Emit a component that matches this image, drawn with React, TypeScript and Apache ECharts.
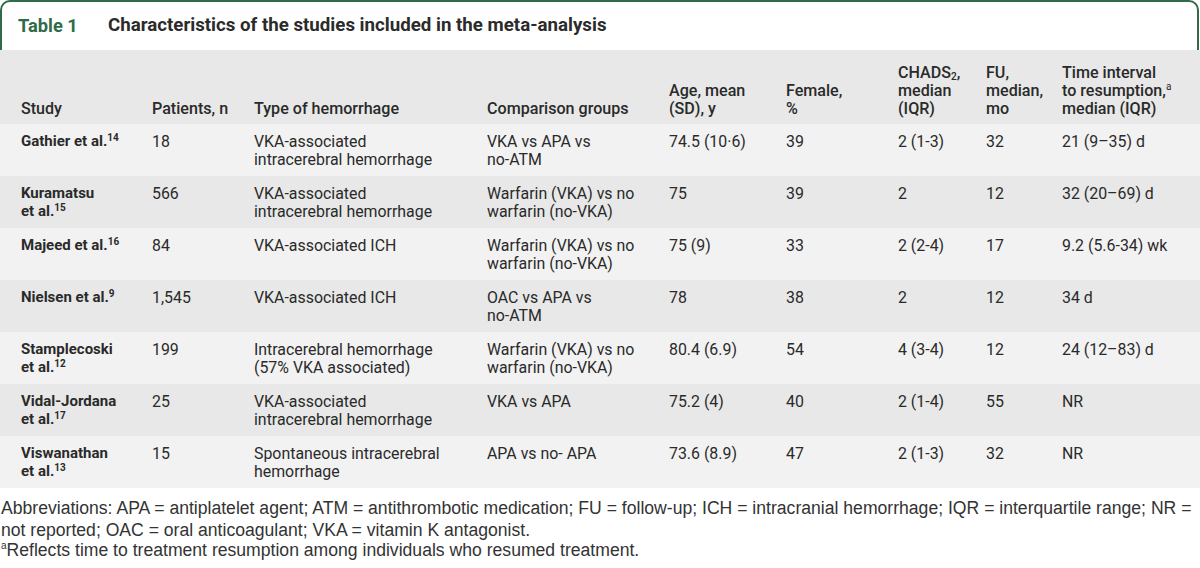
import React, { useEffect, useRef } from "react";
import * as echarts from "echarts";

const tableLabel = "Table 1";
const tableTitle = "Characteristics of the studies included in the meta-analysis";

const columnHeaders = [
  "Study",
  "Patients, n",
  "Type of hemorrhage",
  "Comparison groups",
  "Age, mean\n(SD), y",
  "Female,\n%",
  "CHADS{sub|2},\nmedian\n(IQR)",
  "FU,\nmedian,\nmo",
  "Time interval\nto resumption,{sup|a}\nmedian (IQR)",
];

const studyNames = [
  "Gathier et al.",
  "Kuramatsu\net al.",
  "Majeed et al.",
  "Nielsen et al.",
  "Stamplecoski\net al.",
  "Vidal-Jordana\net al.",
  "Viswanathan\net al.",
];
const studyRefs = ["14", "15", "16", "9", "12", "17", "13"];
const patients = ["18", "566", "84", "1,545", "199", "25", "15"];
const hemorrhageTypes = [
  "VKA-associated\nintracerebral hemorrhage",
  "VKA-associated\nintracerebral hemorrhage",
  "VKA-associated ICH",
  "VKA-associated ICH",
  "Intracerebral hemorrhage\n(57% VKA associated)",
  "VKA-associated\nintracerebral hemorrhage",
  "Spontaneous intracerebral\nhemorrhage",
];
const comparisonGroups = [
  "VKA vs APA vs\nno-ATM",
  "Warfarin (VKA) vs no\nwarfarin (no-VKA)",
  "Warfarin (VKA) vs no\nwarfarin (no-VKA)",
  "OAC vs APA vs\nno-ATM",
  "Warfarin (VKA) vs no\nwarfarin (no-VKA)",
  "VKA vs APA",
  "APA vs no- APA",
];
const ageMeanSD = ["74.5 (10·6)", "75", "75 (9)", "78", "80.4 (6.9)", "75.2 (4)", "73.6 (8.9)"];
const femalePct = ["39", "39", "33", "38", "54", "40", "47"];
const chads2 = ["2 (1-3)", "2", "2 (2-4)", "2", "4 (3-4)", "2 (1-4)", "2 (1-3)"];
const fuMonths = ["32", "12", "17", "12", "12", "55", "32"];
const timeToResumption = ["21 (9–35) d", "32 (20–69) d", "9.2 (5.6-34) wk", "34 d", "24 (12–83) d", "NR", "NR"];

const footnoteLines = [
  "Abbreviations: APA = antiplatelet agent; ATM = antithrombotic medication; FU = follow-up; ICH = intracranial hemorrhage; IQR = interquartile range; NR =",
  "not reported; OAC = oral anticoagulant; VKA = vitamin K antagonist.",
  "{sup|a}Reflects time to treatment resumption among individuals who resumed treatment.",
];

const FONT = "Roboto, 'Liberation Sans', Arial, sans-serif";
const FOOT_FONT = "'Liberation Sans', Arial, sans-serif";
const GREEN = "#2f6b48";
const TEXT = "#2a2a2a";
const BAND_DARK = "#e7e8e7";
const BAND_LIGHT = "#f2f2f2";

const colX = [21, 152, 254, 487, 669, 786, 898, 986, 1062];
const headerTop = 50;
const headerBottom = 124;
const rowH = 52;
const lineH = 18;

function fitSize(text: string, weight: string | number, family: string, base: number, target: number) {
  const c = document.createElement("canvas").getContext("2d");
  if (!c) return base;
  c.font = `${weight} ${base}px ${family}`;
  const w = c.measureText(text).width;
  if (!w) return base;
  return Math.round(((base * target) / w) * 10) / 10;
}

export default function App() {
  const ref = useRef<HTMLDivElement>(null);
  useEffect(() => {
    document.body.style.margin = "0";
    if (!ref.current) return;
    const chart = echarts.init(ref.current, undefined, { renderer: "svg" });

    const labelSize = fitSize(tableLabel, "bold", FONT, 16, 60);
    const titleSize = fitSize(tableTitle, "bold", FONT, 16, 499);
    const headSize = fitSize("Type of hemorrhage", 500, FONT, 15, 145);
    const bodySize = fitSize("Warfarin (VKA) vs no", "normal", FONT, 15, 147);
    const footSize = fitSize(footnoteLines[0], "normal", FOOT_FONT, 16, 1193);

    const rich = {
      sup: { fontSize: 10, lineHeight: 12, verticalAlign: "top", fontFamily: FONT, fill: TEXT },
      supb: { fontSize: 10, lineHeight: 12, verticalAlign: "top", fontFamily: FONT, fontWeight: "bold", fill: TEXT },
      sub: { fontSize: 10, lineHeight: 10, verticalAlign: "bottom", fontFamily: FONT, fontWeight: 500, fill: TEXT },
    };

    const els: any[] = [];
    els.push({
      type: "rect",
      shape: { x: 1, y: 1, width: 1197, height: 70, r: [9, 9, 0, 0] },
      style: { fill: "#fff", stroke: GREEN, lineWidth: 2 },
    });
    els.push({
      type: "text",
      x: 18,
      y: 25,
      style: { text: tableLabel, fontFamily: FONT, fontSize: labelSize, fontWeight: "bold", fill: GREEN, verticalAlign: "middle" },
    });
    els.push({
      type: "text",
      x: 108,
      y: 25,
      style: { text: tableTitle, fontFamily: FONT, fontSize: titleSize, fontWeight: "bold", fill: "#2b2b2b", verticalAlign: "middle" },
    });
    els.push({
      type: "rect",
      shape: { x: 0, y: headerTop, width: 1200, height: headerBottom - headerTop },
      style: { fill: BAND_DARK },
    });
    columnHeaders.forEach((h, i) => {
      const n = h.split("\n").length;
      els.push({
        type: "text",
        x: colX[i],
        y: 117 - n * lineH,
        style: {
          text: h,
          rich,
          fontFamily: FONT,
          fontSize: headSize,
          fontWeight: 500,
          lineHeight: lineH,
          fill: TEXT,
          verticalAlign: "top",
        },
      });
    });

    studyNames.forEach((name, r) => {
      const top = headerBottom + r * rowH;
      els.push({
        type: "rect",
        shape: { x: 0, y: top, width: 1200, height: rowH },
        style: { fill: r % 2 === 0 ? BAND_LIGHT : BAND_DARK },
      });
      const cells = [
        name + "{supb|" + studyRefs[r] + "}",
        patients[r],
        hemorrhageTypes[r],
        comparisonGroups[r],
        ageMeanSD[r],
        femalePct[r],
        chads2[r],
        fuMonths[r],
        timeToResumption[r],
      ];
      cells.forEach((c, i) => {
        els.push({
          type: "text",
          x: colX[i],
          y: top + 8,
          style: {
            text: c,
            rich,
            fontFamily: FONT,
            fontSize: i === 0 ? 15 : bodySize,
            fontWeight: i === 0 ? "bold" : "normal",
            lineHeight: lineH,
            fill: TEXT,
            verticalAlign: "top",
          },
        });
      });
    });

    const footY = [498, 520, 540];
    footnoteLines.forEach((t, i) => {
      els.push({
        type: "text",
        x: 1,
        y: footY[i],
        style: {
          text: t,
          rich: { sup: { fontSize: 10, lineHeight: 12, verticalAlign: "top", fontFamily: FOOT_FONT, fill: "#333" } },
          fontFamily: FOOT_FONT,
          fontSize: footSize,
          lineHeight: 20,
          fill: "#333",
          verticalAlign: "top",
        },
      });
    });

    chart.setOption({ animation: false, graphic: { elements: els } });
    return () => chart.dispose();
  }, []);
  return <div ref={ref} style={{ width: 1200, height: 568, background: "#fff" }} />;
}
